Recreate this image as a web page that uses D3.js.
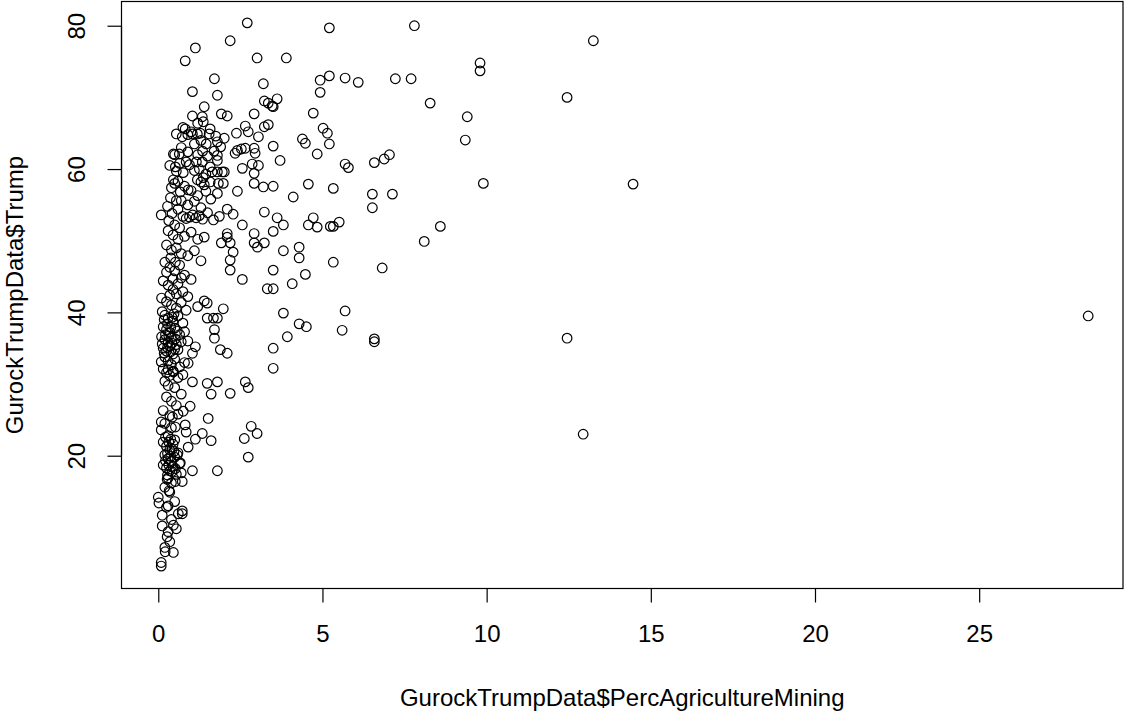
<!DOCTYPE html>
<html>
<head>
<meta charset="utf-8">
<script src="https://cdn.jsdelivr.net/npm/d3@7"></script>
<style>
  html, body { margin: 0; padding: 0; background: #ffffff; }
  svg { display: block; }
  text { font-family: "Liberation Sans", Arial, sans-serif; fill: #000; }
</style>
</head>
<body>
<svg id="chart" width="1126" height="713"></svg>
<script>
// ---- data ----
const xLabel = "GurockTrumpData$PercAgricultureMining";
const yLabel = "GurockTrumpData$Trump";
const xTicks = [0, 5, 10, 15, 20, 25];
const yTicks = [20, 40, 60, 80];
const xDomain = [-1.12, 29.38];
const yDomain = [1.47, 83.38];

// points read individually: [PercAgricultureMining, Trump]
const sparsePoints = [
[28.32,39.5],[12.94,23.0],[12.45,36.4],[12.45,70.0],[13.25,77.9],[14.46,57.9],[9.9,58.0],[9.8,74.8],[9.8,73.7],[9.35,64.05],
[9.41,67.3],[8.59,52.0],[8.1,49.9],[8.28,69.2],[7.8,80.0],[7.7,72.6],[7.22,72.6],[7.13,56.5],[7.04,62.0],[6.88,61.4],
[6.82,46.2],[6.58,60.9],[6.52,56.5],[6.52,54.6],[6.58,36.3],[6.58,35.9],[6.09,72.1],[5.69,72.7],[5.69,60.7],[5.79,60.2],
[5.69,40.2],[5.6,37.5],[5.51,52.6],[5.33,57.3],[5.33,52.0],[5.24,52.0],[5.33,47.0],[5.21,79.7],[5.21,73.0],[5.21,63.5],
[5.15,65.0],[5.02,65.7],[4.93,72.4],[4.93,70.7],[4.84,62.1],[4.84,51.9],[4.72,67.8],[4.72,53.2],[4.57,57.9],[4.57,52.2],
[4.51,38.0],[4.48,45.3],[4.48,63.6],[4.39,64.2],[4.29,49.1],[4.29,47.6],[4.29,38.4],[4.11,56.1],[4.08,44.0],[3.93,36.6],
[3.9,75.5],[3.81,48.6],[3.81,39.9],[3.81,52.2],[3.71,61.2],[3.62,53.2],[3.62,69.8],[3.5,68.7],[3.47,68.8],[3.35,69.2],
[3.23,69.5],[3.5,63.2],[3.5,57.6],[3.5,51.3],[3.5,45.9],[3.5,43.3],[3.32,43.3],[3.5,35.0],[3.5,32.2],[3.23,54.0],
[3.23,49.7],[3.02,49.1],[2.92,49.7],[3.23,65.9],[3.35,66.2],[3.2,71.9],[3.2,57.5],[3.05,64.5],[3.05,60.5],[3.01,75.5],
[2.92,67.7],[2.92,62.9],[2.95,62.2],[2.92,59.4],[2.92,58.0],[2.92,51.0],[2.86,60.7],[2.83,24.1],[3.01,23.1],[2.62,22.4],
[2.74,19.8],[2.74,65.2],[2.74,29.5],[2.65,30.3],[2.71,80.4],[2.65,66.0],[2.65,62.9],[2.56,60.1],[2.56,52.2],[2.56,44.6],
[2.53,62.8],[2.41,62.6],[2.38,65.0],[2.34,62.2],[2.41,56.9],[2.28,53.7],[2.28,48.4],[2.19,77.9],[2.19,49.7],[2.19,47.3],
[2.19,45.9],[2.19,28.7],[2.1,67.4],[2.1,54.4],[2.1,51.0],[2.1,50.5],[2.1,34.3],[2.01,64.3],[2.01,59.6],[1.98,58.0],
[1.95,59.6],[1.98,40.5],[1.92,67.7],[1.92,49.7],[1.89,34.8],[1.86,53.4],[1.83,58.0],[1.8,59.6],[1.8,61.9],[1.8,61.2],
[1.8,63.8],[1.8,70.3],[1.8,39.2],[1.8,30.3],[1.8,17.9],[1.71,72.6],[1.71,37.6],[1.71,36.4],[1.68,52.9],[1.68,39.2],
[1.64,59.6],[1.58,60.3],[1.58,58.2],[1.58,65.6],[1.61,28.6],[1.61,22.1],[1.52,25.2],[1.49,41.3],[1.49,39.2],[1.49,30.1],
[1.46,63.5],[1.4,68.7],[1.4,50.5],[1.37,66.6],[1.34,67.3],[1.37,58.8],[1.34,61.0],[1.34,23.1],[1.28,65.0],[1.19,64.9],
[1.19,58.5],[1.16,61.0],[1.13,76.9],[1.13,35.2],[1.13,22.3],[1.04,70.8],[1.04,67.4],[1.04,64.9],[1.04,34.3],[1.04,30.3],
[1.04,17.9],[0.97,26.9],[0.91,57.1],[0.91,32.9],[0.91,21.2],[0.85,61.0],[0.85,23.3],[0.82,65.6],[0.82,75.1],[0.82,24.3],
[0.76,59.5],[0.76,26.2],[0.73,64.5],[0.73,16.4],[0.73,12.3],[0.73,11.9],[0.67,56.8],[0.67,19.0],[0.64,62.1],[0.61,11.9],
[0.58,20.1],[0.55,59.7],[0.52,60.3],[0.52,24.0],[0.52,16.4],[0.46,62.1],[0.46,58.5],[0.46,31.7],[0.46,10.3],[0.46,6.5],
[0.43,25.4],[0.37,56.0],[0.33,15.1],[0.3,32.0],[0.3,13.0],[0.3,9.4],[0.27,16.7],[0.27,8.7],[0.21,6.6],[0.12,11.7],
[0.12,10.2],[0.09,53.6],[0.09,33.1],[0.09,24.7],[0.09,23.6],[0.09,5.1],[0.09,4.6],[0.0,14.2],[0.02,13.4]
];

// points of the dense low-x cluster (estimated)
const clusterPoints = [
[0.5,62.0],[0.55,64.9],[0.7,63.0],[0.9,64.8],[1.0,65.2],[1.1,63.5],[1.2,66.4],[1.3,64.0],[1.35,62.5],[1.5,61.8],
[1.55,64.9],[0.95,60.6],[1.25,60.0],[1.45,59.3],[1.7,62.5],[1.75,64.6],[1.9,63.1],[0.35,60.5],[0.6,58.3],[0.8,57.6],
[1.0,57.0],[1.2,56.3],[1.4,57.8],[1.6,55.8],[1.8,56.6],[0.5,58.0],[0.4,57.4],[0.7,55.6],[0.9,55.0],[1.1,55.5],
[1.3,54.6],[1.5,53.9],[0.6,54.4],[0.75,53.4],[0.85,53.1],[0.95,53.3],[1.05,53.6],[1.15,53.2],[1.25,53.5],[1.35,53.0],
[0.5,52.2],[0.3,51.4],[0.45,50.8],[0.65,51.8],[0.8,50.6],[1.0,51.2],[1.2,50.2],[0.25,49.4],[0.4,48.7],[0.55,49.0],
[0.7,48.2],[0.9,47.9],[1.1,48.6],[1.3,47.2],[0.2,47.0],[0.35,46.3],[0.5,45.8],[0.65,46.6],[0.8,45.2],[1.0,44.6],
[0.15,44.4],[0.3,43.8],[0.45,43.2],[0.6,44.0],[0.75,42.9],[0.9,42.2],[0.1,42.0],[0.25,41.5],[0.4,41.0],[0.55,40.6],
[0.7,41.4],[0.85,40.3],[1.2,40.8],[1.4,41.6],[0.12,40.1],[0.2,39.6],[0.3,39.2],[0.45,38.8],[0.6,39.5],[0.75,38.5],
[0.15,38.0],[0.25,37.6],[0.35,37.2],[0.5,37.8],[0.65,36.9],[0.8,37.3],[0.1,36.6],[0.2,36.2],[0.3,35.8],[0.4,36.4],
[0.55,35.5],[0.7,35.9],[0.9,36.0],[0.15,35.0],[0.25,34.6],[0.35,35.3],[0.45,34.2],[0.6,34.8],[0.2,33.8],[0.3,33.2],
[0.4,32.7],[0.5,33.5],[0.65,32.4],[0.8,33.0],[0.15,32.1],[0.25,31.6],[0.35,31.2],[0.45,31.8],[0.6,30.9],[0.75,31.3],
[0.2,30.4],[0.3,29.8],[0.5,29.5],[0.7,28.6],[0.25,28.2],[0.4,27.6],[0.55,27.0],[0.15,26.3],[0.35,25.6],[0.6,25.8],
[0.2,24.5],[0.4,23.9],[0.3,22.8],[0.5,22.2],[0.15,21.9],[0.25,21.3],[0.35,20.8],[0.45,21.6],[0.6,20.4],[0.2,20.1],
[0.3,19.6],[0.4,19.2],[0.5,19.8],[0.65,18.9],[0.15,18.7],[0.25,18.3],[0.35,17.9],[0.45,18.5],[0.55,17.4],[0.7,17.6],
[0.3,16.9],[0.4,16.2],[0.2,15.6],[0.35,14.9],[0.5,13.6],[0.25,12.8],[0.4,11.1],[0.55,9.8],[0.35,8.0],[0.2,7.2],
[0.18,39.0],[0.28,38.4],[0.38,37.9],[0.48,39.8],[0.22,36.9],[0.32,36.7],[0.42,35.7],[0.52,36.3],[0.12,35.6],[0.28,35.1],
[0.38,34.5],[0.5,34.9],[0.18,34.3],[0.58,37.4],[0.42,39.3],[0.22,22.6],[0.32,21.9],[0.42,20.9],[0.28,20.3],[0.38,19.9],
[0.48,20.6],[0.22,19.3],[0.32,18.7],[0.42,17.8],[0.52,18.2],[0.28,17.3],[0.38,22.3],[0.28,54.8],[0.42,53.8],[0.55,55.6],
[0.32,52.8],[0.6,50.2],[0.38,47.6],[0.52,47.0],[0.7,44.8],[0.25,45.6],[0.45,44.7],[0.35,42.4],[0.55,42.6],[0.65,60.8],
[0.9,62.4],[1.1,59.8],[1.3,58.2],[1.45,56.9],[1.2,62.0],[0.75,65.8]
];

// ---- layout ----
const box = { left: 121.5, right: 1123, top: 1.5, bottom: 588.5 };
const fontSize = 24;

const svg = d3.select("#chart");
const x = d3.scaleLinear().domain(xDomain).range([box.left, box.right]);
const y = d3.scaleLinear().domain(yDomain).range([box.bottom, box.top]);

// points
const allPoints = sparsePoints.concat(clusterPoints);
svg.append("g")
  .selectAll("circle")
  .data(allPoints)
  .join("circle")
  .attr("cx", d => x(d[0]))
  .attr("cy", d => y(d[1]))
  .attr("r", 4.8)
  .attr("fill", "none")
  .attr("stroke", "#000")
  .attr("stroke-width", 1.2);

// box
svg.append("rect")
  .attr("x", box.left).attr("y", box.top)
  .attr("width", box.right - box.left).attr("height", box.bottom - box.top)
  .attr("fill", "none").attr("stroke", "#000").attr("stroke-width", 1.2);

// x axis
const xAxis = d3.axisBottom(x).tickValues(xTicks).tickSize(14).tickPadding(22.5).tickFormat(d3.format("d"));
const gx = svg.append("g").attr("transform", `translate(0,${box.bottom})`).call(xAxis);
gx.select(".domain")
  .attr("d", `M${x(xTicks[0])},0H${x(xTicks[xTicks.length-1])}`)
  .attr("stroke", "#000").attr("stroke-width", 1.2);
gx.selectAll(".tick line").attr("stroke", "#000").attr("stroke-width", 1.2);
gx.selectAll(".tick text").attr("font-size", fontSize).attr("font-family", "Liberation Sans, Arial, sans-serif").attr("fill", "#000");

// y axis
const yAxis = d3.axisLeft(y).tickValues(yTicks).tickSize(14).tickFormat(d3.format("d"));
const gy = svg.append("g").attr("transform", `translate(${box.left},0)`).call(yAxis);
gy.select(".domain")
  .attr("d", `M0,${y(yTicks[0])}V${y(yTicks[yTicks.length-1])}`)
  .attr("stroke", "#000").attr("stroke-width", 1.2);
gy.selectAll(".tick line").attr("stroke", "#000").attr("stroke-width", 1.2);
gy.selectAll(".tick text")
  .attr("x", null).attr("dy", null)
  .attr("text-anchor", "middle")
  .attr("transform", "translate(-36.5,0) rotate(-90)")
  .attr("font-size", fontSize).attr("font-family", "Liberation Sans, Arial, sans-serif").attr("fill", "#000");

// titles
svg.append("text")
  .attr("x", (box.left + box.right) / 2)
  .attr("y", 706)
  .attr("text-anchor", "middle")
  .attr("font-size", fontSize)
  .text(xLabel);

svg.append("text")
  .attr("transform", `translate(23,${(box.top + box.bottom) / 2}) rotate(-90)`)
  .attr("text-anchor", "middle")
  .attr("font-size", fontSize)
  .text(yLabel);
</script>
</body>
</html>
